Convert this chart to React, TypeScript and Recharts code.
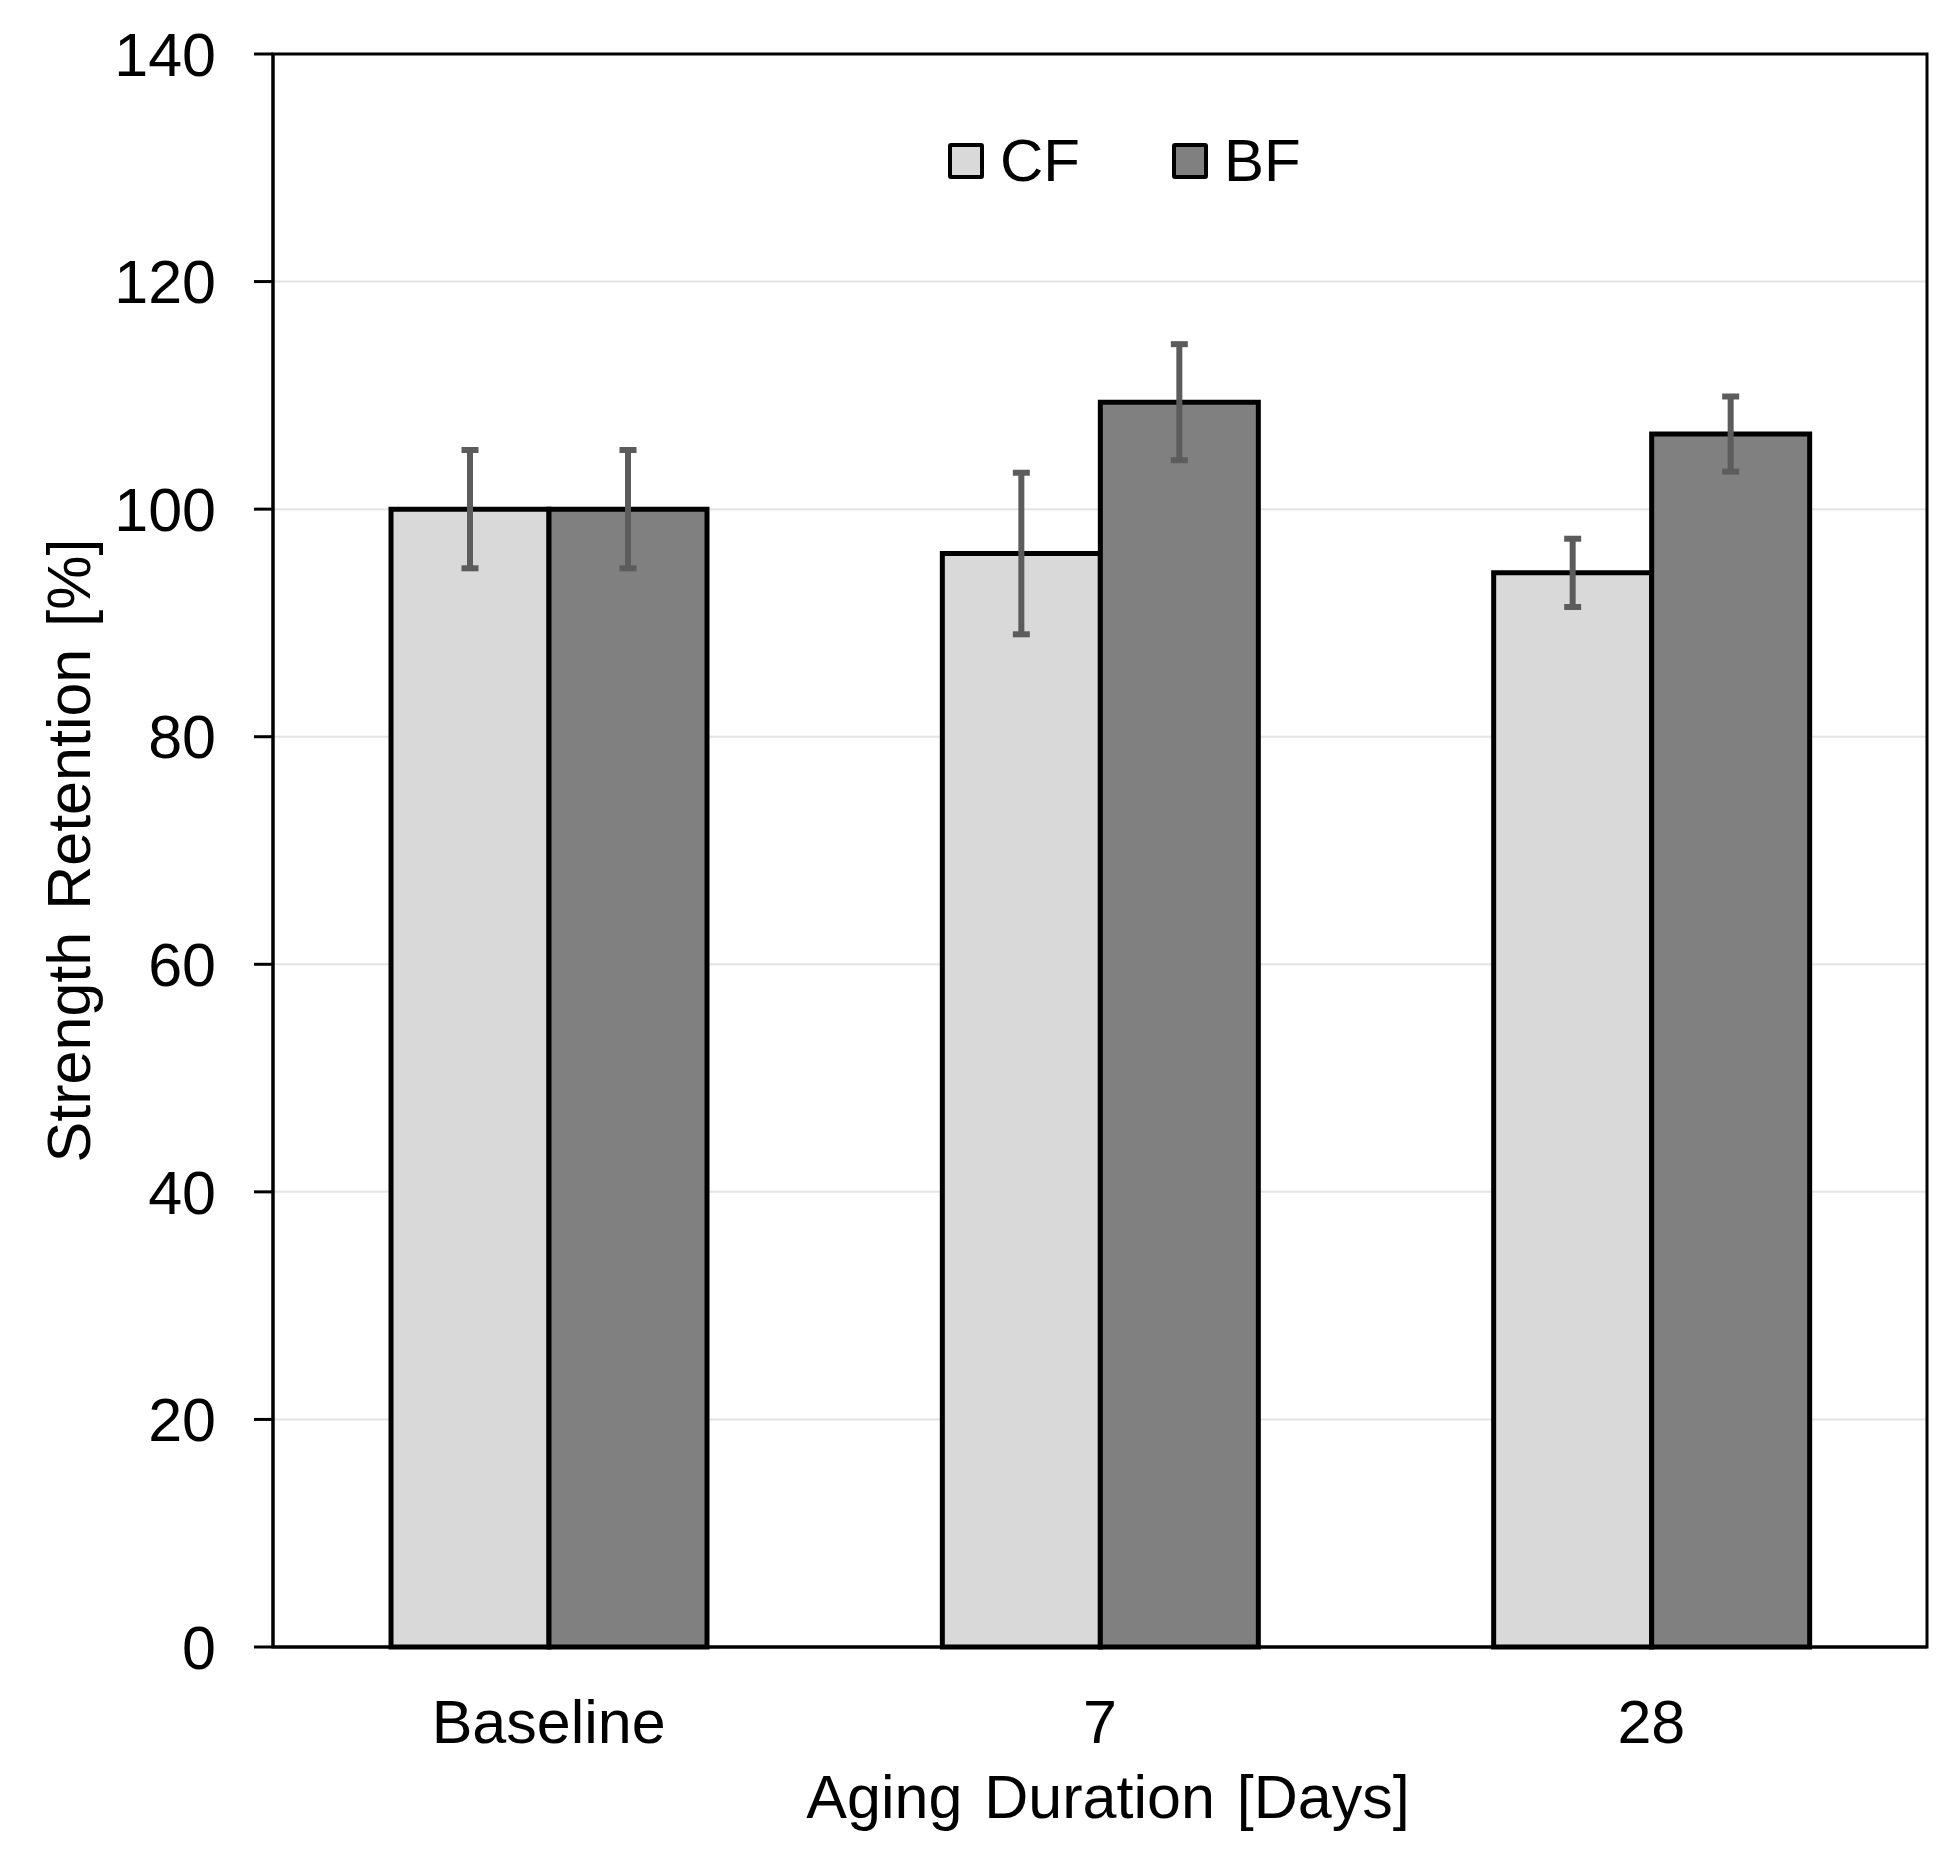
import React from "react";
import {
  BarChart,
  Bar,
  XAxis,
  YAxis,
  CartesianGrid,
  ErrorBar,
  Legend,
  Label,
  ReferenceArea,
} from "recharts";

const CATEGORIES = ["Baseline", "7", "28"];
const SERIES_ORDER = ["CF", "BF"];
const CF_VALUES = [100, 96.1, 94.4];
const CF_ERRORS = [5.2, 7.1, 3.0];
const BF_VALUES = [100, 109.4, 106.6];
const BF_ERRORS = [5.2, 5.1, 3.3];
const Y_TICKS = [0, 20, 40, 60, 80, 100, 120, 140];

const COLORS = {
  cf: "#d9d9d9",
  bf: "#808080",
  edge: "#000000",
  err: "#5c5c5c",
  grid: "#e4e4e4",
};

const FONT = "'Liberation Sans', Arial, Helvetica, sans-serif";

const data = CATEGORIES.map((name, i) => ({
  name,
  cf: CF_VALUES[i],
  cfErr: CF_ERRORS[i],
  bf: BF_VALUES[i],
  bfErr: BF_ERRORS[i],
}));

// Legend sorts by name by default; keep the series order instead.
function LegendBox({ payload }: { payload?: Array<{ value?: string; color?: string }> }) {
  if (!payload?.length) return null;
  const items = [...payload].sort(
    (a, b) => SERIES_ORDER.indexOf(String(a.value)) - SERIES_ORDER.indexOf(String(b.value))
  );
  return (
    <div style={{ display: "flex", alignItems: "center", fontFamily: FONT }}>
      {items.map((p, i) => (
        <div key={i} style={{ display: "flex", alignItems: "center", marginRight: i === 0 ? 92 : 0 }}>
          <span
            style={{
              display: "inline-block",
              width: 28,
              height: 28,
              background: p.color,
              border: "4px solid #000",
              borderRadius: 3,
              marginRight: 16,
            }}
          />
          <span style={{ fontSize: 60, lineHeight: "60px", color: "#000" }}>{p.value}</span>
        </div>
      ))}
    </div>
  );
}

export default function App() {
  return (
    <div style={{ position: "absolute", left: 0, top: 0, background: "#fff" }}>
      <BarChart
        width={1956}
        height={1866}
        data={data}
        margin={{ top: 54, right: 29, bottom: 0, left: 0 }}
        barGap={0}
        barSize={158}
        style={{ fontFamily: FONT }}
      >
        <CartesianGrid vertical={false} stroke={COLORS.grid} strokeWidth={2} />
        <XAxis
          dataKey="name"
          height={219}
          tickLine={false}
          tickSize={0}
          tickMargin={53}
          axisLine={{ stroke: COLORS.edge, strokeWidth: 3 }}
          tick={{ fontSize: 61, fill: "#000", fontFamily: FONT }}
        >
          <Label
            value="Aging Duration [Days]"
            position="insideBottom"
            offset={48}
            dx={8}
            style={{ fontSize: 61, fill: "#000", fontFamily: FONT, wordSpacing: 5 }}
          />
        </XAxis>
        <YAxis
          width={273}
          domain={[0, 140]}
          ticks={Y_TICKS}
          interval={0}
          tickSize={19}
          tickMargin={38}
          axisLine={{ stroke: COLORS.edge, strokeWidth: 3 }}
          tickLine={{ stroke: COLORS.edge, strokeWidth: 3 }}
          tick={{ fontSize: 61, fill: "#000", fontFamily: FONT }}
        >
          <Label
            value="Strength Retention [%]"
            angle={-90}
            position="insideLeft"
            offset={68}
            style={{ fontSize: 61, fill: "#000", fontFamily: FONT, textAnchor: "middle", wordSpacing: 5 }}
          />
        </YAxis>
        <ReferenceArea y1={0} y2={140} fill="none" stroke={COLORS.edge} strokeWidth={3} ifOverflow="visible" />
        <Legend
          verticalAlign="middle"
          align="center"
          layout="horizontal"
          content={<LegendBox />}
          wrapperStyle={{ top: 131, left: 948, width: "auto" }}
        />
        <Bar dataKey="cf" name="CF" fill={COLORS.cf} stroke={COLORS.edge} strokeWidth={5} isAnimationActive={false}>
          <ErrorBar dataKey="cfErr" width={8.5} strokeWidth={6} stroke={COLORS.err} isAnimationActive={false} />
        </Bar>
        <Bar dataKey="bf" name="BF" fill={COLORS.bf} stroke={COLORS.edge} strokeWidth={5} isAnimationActive={false}>
          <ErrorBar dataKey="bfErr" width={8.5} strokeWidth={6} stroke={COLORS.err} isAnimationActive={false} />
        </Bar>
      </BarChart>
    </div>
  );
}
